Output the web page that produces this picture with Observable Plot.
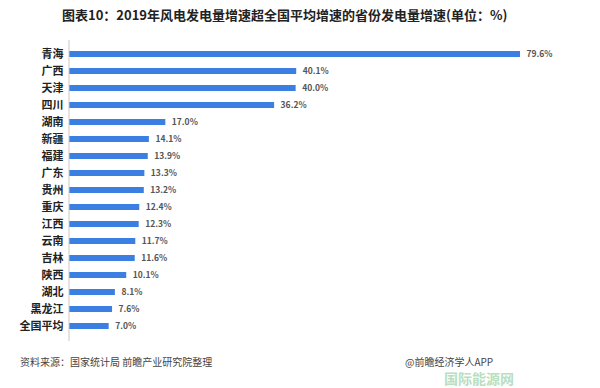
<!DOCTYPE html>
<html><head><meta charset="utf-8">
<script src="https://cdn.jsdelivr.net/npm/d3@7"></script>
<script src="https://cdn.jsdelivr.net/npm/@observablehq/plot@0.6"></script>
<style>
body{margin:0;background:#fff;font-family:"Noto Sans CJK SC","Noto Sans",sans-serif;width:600px;height:388px;position:relative;overflow:hidden}
#title{font-size:13px;font-weight:bold;color:#222;padding:7px 0 0 62px;height:23px;line-height:16px}
#chart svg{display:block}
#cap{font-size:10px;color:#444;margin:7px 0 0 20px}
#app{position:absolute;left:405px;top:354px;font-size:10px;color:#444}
#wm{position:absolute;left:444px;top:370px;font-size:14px;font-weight:bold;color:#a8d8b0;opacity:0.8;line-height:16px}
</style></head><body>
<div id="title">图表10：2019年风电发电量增速超全国平均增速的省份发电量增速(单位：%)</div>
<div id="chart"></div>
<div id="cap">资料来源：国家统计局 前瞻产业研究院整理</div>
<div id="app">@前瞻经济学人APP</div>
<div id="wm">国际能源网</div>
<script>
const provinces = ["青海","广西","天津","四川","湖南","新疆","福建","广东","贵州","重庆","江西","云南","吉林","陕西","湖北","黑龙江","全国平均"];
const growth = [79.6,40.1,40.0,36.2,17.0,14.1,13.9,13.3,13.2,12.4,12.3,11.7,11.6,10.1,8.1,7.6,7.0];
const data = provinces.map((p,i)=>({p, v:growth[i]}));
const chart = Plot.plot({
  width:600, height:317,
  marginLeft:69, marginRight:80, marginTop:10, marginBottom:6,
  style:{fontFamily:'"Noto Sans CJK SC","Noto Sans",sans-serif', background:"transparent"},
  x:{domain:[0,79.6], axis:null},
  y:{domain:provinces, paddingInner:0.64, paddingOuter:0.32, label:null},
  marks:[
    Plot.barX(data,{x:"v", y:"p", fill:"#3b7fe2"}),
    Plot.text(data,{x:"v", y:"p", text:d=>d.v.toFixed(1)+"%", dx:6, textAnchor:"start", fontSize:8.5, fontWeight:"bold", fill:"#555"}),
    Plot.ruleX([0],{stroke:"#c8c8c8", strokeWidth:1, dx:-0.5}),
    Plot.axisY({tickSize:0, tickPadding:6, fontSize:11, fontWeight:"bold", fill:"#222", label:null})
  ]
});
document.getElementById("chart").appendChild(chart);
</script>
</body></html>
